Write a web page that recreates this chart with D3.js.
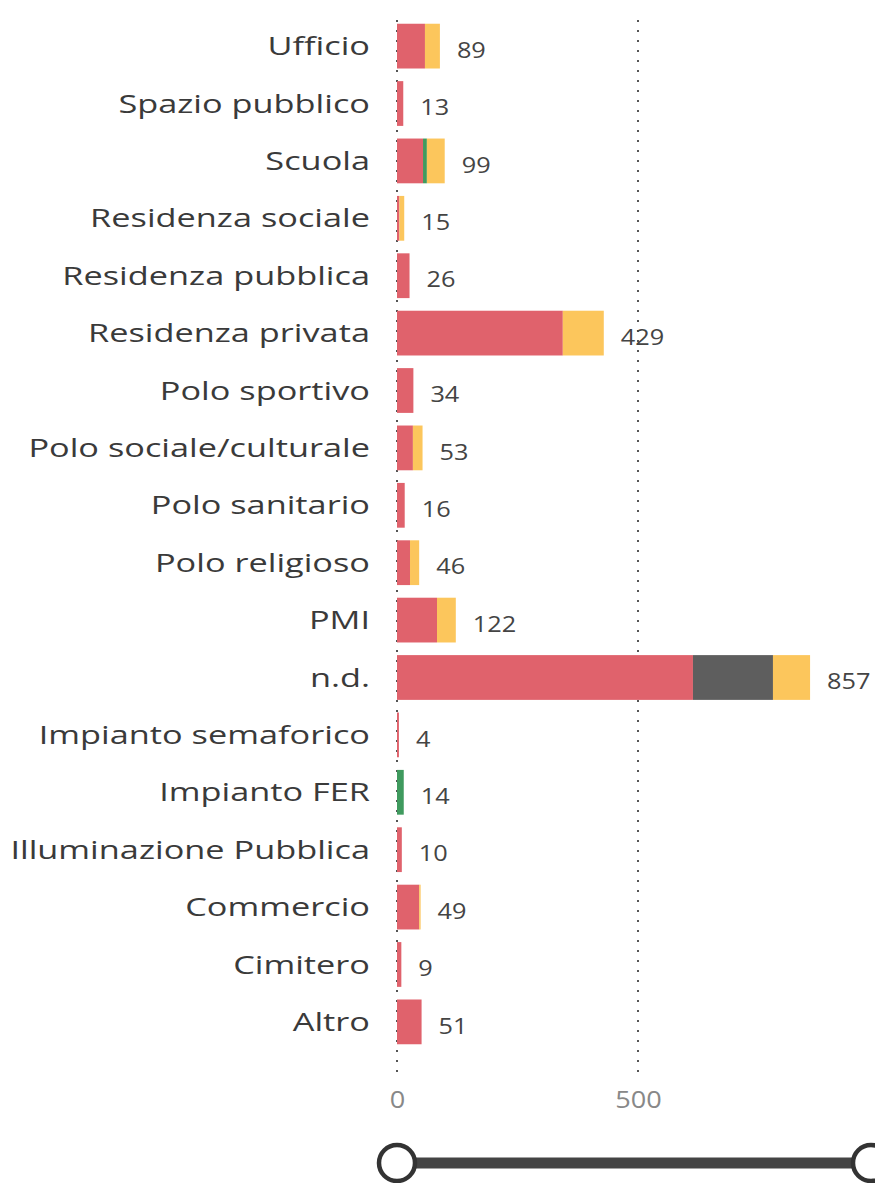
<!DOCTYPE html>
<html>
<head>
<meta charset="utf-8">
<script src="https://cdn.jsdelivr.net/npm/d3@7"></script>
<style>
  body { margin: 0; background: #fff; overflow: hidden; }
  text { font-family: "Open Sans", "Noto Sans", sans-serif; }
</style>
</head>
<body>
<div id="chart"></div>
<script>
// categories top to bottom
var categories = ["Ufficio", "Spazio pubblico", "Scuola", "Residenza sociale", "Residenza pubblica",
  "Residenza privata", "Polo sportivo", "Polo sociale/culturale", "Polo sanitario", "Polo religioso",
  "PMI", "n.d.", "Impianto semaforico", "Impianto FER", "Illuminazione Pubblica", "Commercio",
  "Cimitero", "Altro"];

// stacked segments
var serieRossa  = [58, 13, 54, 5, 26, 344, 34, 33, 16, 27, 83, 614, 4, 0, 10, 46, 9, 51];
var serieVerde  = [0, 0, 8, 0, 0, 0, 0, 0, 0, 0, 0, 0, 0, 14, 0, 0, 0, 0];
var serieGrigia = [0, 0, 0, 0, 0, 0, 0, 0, 0, 0, 0, 166, 0, 0, 0, 0, 0, 0];
var serieGialla = [31, 0, 37, 10, 0, 85, 0, 20, 0, 19, 39, 77, 0, 0, 0, 3, 0, 0];
var totali = [89, 13, 99, 15, 26, 429, 34, 53, 16, 46, 122, 857, 4, 14, 10, 49, 9, 51];

var xTicks = [0, 500];
var keys = ["rossa", "verde", "grigia", "gialla"];
var colors = {rossa: "#E0626C", verde: "#3F9A5E", grigia: "#5E5E5E", gialla: "#FCC65C"};

var W = 875, H = 1183;

var svg = d3.select("#chart").append("svg")
  .attr("width", W)
  .attr("height", H);

var rows = categories.map(function(c, i) {
  return {cat: c, rossa: serieRossa[i], verde: serieVerde[i], grigia: serieGrigia[i],
          gialla: serieGialla[i], tot: totali[i]};
});

var x = d3.scaleLinear().domain([0, 500]).range([397, 638]);

var y = d3.scaleBand()
  .domain(categories)
  .range([18, 1050])
  .paddingInner(0.22)
  .paddingOuter(0.1);

// dotted gridlines
svg.append("g").selectAll("line")
  .data(xTicks)
  .enter().append("line")
    .attr("x1", function(d) { return x(d); })
    .attr("x2", function(d) { return x(d); })
    .attr("y1", 20)
    .attr("y2", 1080)
    .style("stroke", "#555")
    .style("stroke-width", 2)
    .style("stroke-dasharray", "2,8");

// stacked bars
var stack = d3.stack().keys(keys)(rows);
svg.append("g").selectAll("g")
  .data(stack)
  .enter().append("g")
    .style("fill", function(d) { return colors[d.key]; })
  .selectAll("rect")
  .data(function(d) { return d; })
  .enter().append("rect")
    .attr("x", function(d) { return x(d[0]); })
    .attr("y", function(d) { return y(d.data.cat); })
    .attr("width", function(d) { return Math.max(0, x(d[1]) - x(d[0])); })
    .attr("height", y.bandwidth());

// category labels (text is a bit wide in the original)
svg.append("g").selectAll("text")
  .data(rows)
  .enter().append("text")
    .attr("transform", function(d) {
      return "translate(370," + (y(d.cat) + y.bandwidth() / 2) + ") scale(1.32,1)";
    })
    .attr("dy", "0.35em")
    .attr("text-anchor", "end")
    .style("font-size", "26px")
    .style("fill", "#3a3a3a")
    .text(function(d) { return d.cat; });

// value labels
svg.append("g").selectAll("text")
  .data(rows)
  .enter().append("text")
    .attr("transform", function(d) {
      return "translate(" + (x(d.tot) + 17) + "," + (y(d.cat) + y.bandwidth() / 2 + 4) + ") scale(1.15,1)";
    })
    .attr("dy", "0.35em")
    .style("font-size", "22px")
    .style("fill", "#444")
    .text(function(d) { return d.tot; });

// x axis
var ax = svg.append("g")
  .attr("transform", "translate(0,1088)")
  .style("font-family", "'Open Sans', sans-serif")
  .style("color", "#888")
  .call(d3.axisBottom(x).tickValues(xTicks).tickSize(0).tickPadding(4));
ax.select(".domain").remove();
ax.selectAll("text")
  .style("font-size", "23px")
  .attr("transform", "scale(1.18,1)");

// range slider at the bottom
var slider = svg.append("g");
slider.append("line")
  .attr("x1", x(0))
  .attr("x2", 871)
  .attr("y1", 1163)
  .attr("y2", 1163)
  .style("stroke", "#444")
  .style("stroke-width", 11);
slider.selectAll("circle")
  .data([x(0), 871])
  .enter().append("circle")
    .attr("cx", function(d) { return d; })
    .attr("cy", 1163)
    .attr("r", 18)
    .style("fill", "#fff")
    .style("stroke", "#333")
    .style("stroke-width", 4.5);
</script>
</body>
</html>
